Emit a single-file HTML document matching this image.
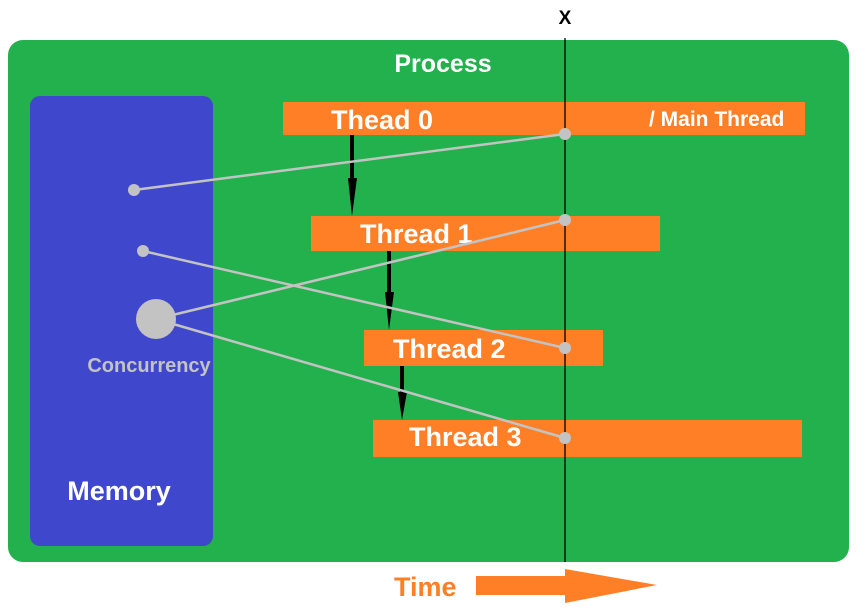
<!DOCTYPE html>
<html><head><style>body{margin:0;background:#fff}svg{display:block}text{font-family:"Liberation Sans",sans-serif;font-weight:bold}</style></head>
<body>
<svg width="863" height="607" xmlns="http://www.w3.org/2000/svg">
<rect x="8" y="40" width="841" height="522" rx="15" fill="#22B14C"/>
<rect x="30" y="96" width="183" height="450" rx="10" fill="#3F48CC"/>
<text x="443" y="72" fill="#fff" font-size="25" text-anchor="middle">Process</text>
<text x="119" y="500" fill="#fff" font-size="27" text-anchor="middle">Memory</text>
<text x="149" y="372" fill="#c3c3c3" font-size="20" text-anchor="middle">Concurrency</text>
<rect x="283" y="102" width="522" height="33" fill="#FF7F27"/>
<rect x="311" y="216" width="349" height="35" fill="#FF7F27"/>
<rect x="364" y="330" width="239" height="36" fill="#FF7F27"/>
<rect x="373" y="420" width="429" height="37" fill="#FF7F27"/>
<text x="331" y="129" fill="#fff" font-size="27">Thead 0</text>
<text x="649" y="126" fill="#fff" font-size="21">/ Main Thread</text>
<text x="360" y="243" fill="#fff" font-size="27">Thread 1</text>
<text x="393" y="358" fill="#fff" font-size="27">Thread 2</text>
<text x="409" y="446" fill="#fff" font-size="27">Thread 3</text>
<g stroke="#000" stroke-width="4">
<line x1="352" y1="135" x2="352" y2="200"/><line x1="389" y1="251" x2="389" y2="314"/><line x1="402" y1="366" x2="402" y2="404"/></g>
<g fill="#000"><polygon points="348,178 357,178 352,216"/><polygon points="385,292 394,292 389,330"/><polygon points="398,392 407,392 402,420"/></g>
<line x1="565" y1="38" x2="565" y2="562" stroke="#000" stroke-width="1.3"/>
<text x="565" y="24" fill="#000" font-size="19" text-anchor="middle">X</text>
<g stroke="#c3c3c3" stroke-width="2.5">
<line x1="134" y1="190" x2="565" y2="134"/><line x1="143" y1="251" x2="565" y2="348"/><line x1="156" y1="319" x2="565" y2="220"/><line x1="156" y1="319" x2="565" y2="438"/></g>
<g fill="#c3c3c3"><circle cx="565" cy="134" r="6"/><circle cx="565" cy="220" r="6"/><circle cx="565" cy="348" r="6"/><circle cx="565" cy="438" r="6"/><circle cx="134" cy="190" r="6"/><circle cx="143" cy="251" r="6"/><circle cx="156" cy="319" r="20"/></g>
<text x="394" y="596" fill="#FF7F27" font-size="27">Time</text>
<rect x="476" y="576" width="90" height="19" fill="#FF7F27"/>
<polygon points="565,569 657,585 565,603" fill="#FF7F27"/>
</svg>
</body></html>
